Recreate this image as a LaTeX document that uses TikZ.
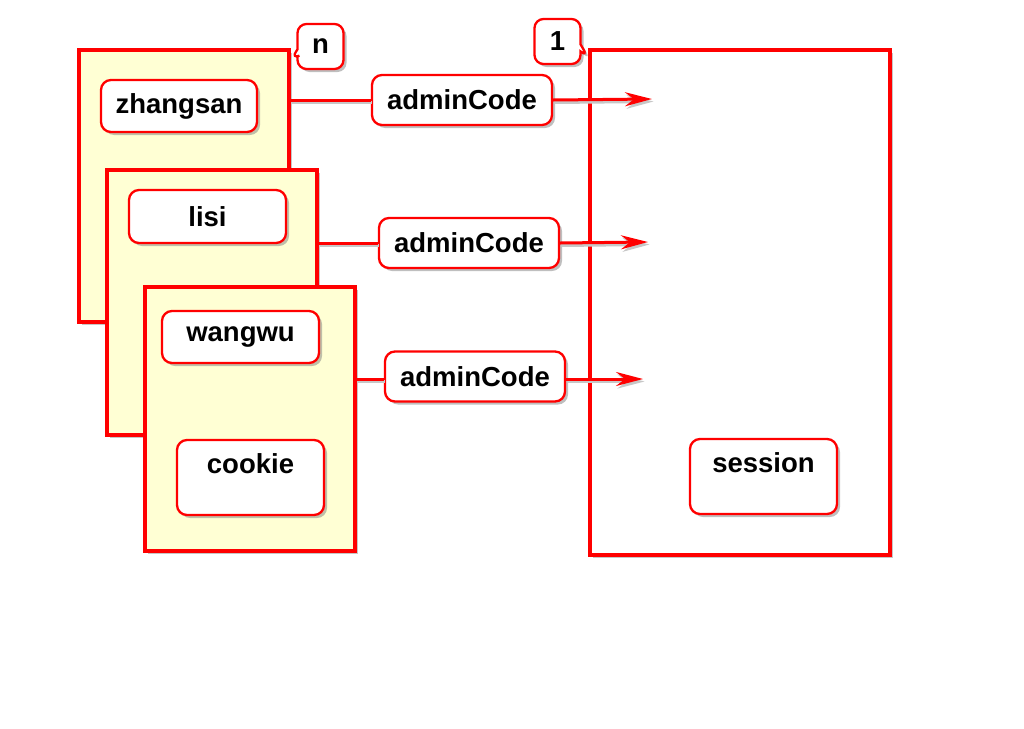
\documentclass[tikz,border=0pt]{standalone}
\usepackage{fontspec}
\setmainfont{Liberation Sans}
\usetikzlibrary{shadows,shapes.callouts,arrows.meta}

\definecolor{cardyellow}{RGB}{255,255,212}
\definecolor{linered}{RGB}{255,0,0}

\tikzset{
    card/.style={draw=linered, line width=3.4pt, fill=cardyellow,
        drop shadow={shadow xshift=3pt, shadow yshift=-3pt, opacity=0.45}},
    frame/.style={draw=linered, line width=3.4pt, fill=white,
        drop shadow={shadow xshift=3pt, shadow yshift=-3pt, opacity=0.45}},
    item/.style={draw=linered, line width=2.3pt, fill=white, rounded corners=10pt,
        font=\fontsize{27.5}{30}\selectfont\bfseries, align=center,
        minimum width=156pt, minimum height=52pt, inner sep=2pt,
        drop shadow={shadow xshift=3pt, shadow yshift=-3pt, opacity=0.5}},
    codebox/.style={item, minimum width=180pt, minimum height=50pt},
    marker/.style={rectangle callout, draw=linered, line width=2.3pt, fill=white,
        rounded corners=9pt, font=\fontsize{27.5}{30}\selectfont\bfseries,
        minimum width=46pt, minimum height=45pt, inner sep=2pt,
        drop shadow={shadow xshift=3pt, shadow yshift=-3pt, opacity=0.5}},
    flow/.style={draw=linered, line width=3pt,
        preaction={draw=black!22, line width=3pt, transform canvas={xshift=1.5pt, yshift=-2.5pt}}},
    flowtip/.style={flow, -{Stealth[length=27pt, width=14pt, inset=9pt]}}
}

\begin{document}
\begin{tikzpicture}[x=1pt,y=-1pt]
    \useasboundingbox (0,0) rectangle (1024,728);

    % draw the three client cards
    \node[card, minimum width=210pt, minimum height=272pt] (cardA) at (184,186) {};
    \node[card, minimum width=210pt, minimum height=265pt] (cardB) at (212,302.5) {};
    \node[card, minimum width=210pt, minimum height=264pt] (cardC) at (250,419) {};

    % draw the server frame
    \node[frame, minimum width=300pt, minimum height=505pt] (sess) at (740,302.5) {};

    % fill the names in the cards
    \node[item] (zhangsan) at (179,106) {zhangsan};
    \node[item, minimum width=157pt, minimum height=53pt] (lisi) at (207.5,216.5) {lisi};
    \node[item, minimum width=157pt] (wangwu) at (240.5,337) {wangwu};
    \node[item, minimum width=147pt, minimum height=75pt] (cookie) at (250.5,477.5) {cookie\\[-3pt]~};
    \node[item, minimum width=147pt, minimum height=75pt] (session) at (763.5,476.5) {session\\[-3pt]~};

    % draw the multiplicity marks
    \node[marker, callout absolute pointer={(291,59)}] (many) at (320.5,46.5) {n};
    \node[marker, callout absolute pointer={(588,57)}] (one) at (557.5,41.5) {1};

    % draw the adminCode labels
    \node[codebox] (code1) at (462,100) {adminCode};
    \node[codebox] (code2) at (469,243) {adminCode};
    \node[codebox] (code3) at (475,376.5) {adminCode};

    % arrow ends inside the session frame
    \coordinate (tip1) at (652,99);
    \coordinate (tip2) at (648,242);
    \coordinate (tip3) at (643,379);

    % draw arrow from card to session
    \draw[flow] (cardA.east |- code1.west) -- (code1.west);
    \draw[flowtip] (code1.east) -- (tip1);
    \draw[flow] (cardB.east |- code2.west) -- (code2.west);
    \draw[flowtip] (code2.east) -- (tip2);
    \draw[flow] (cardC.east |- tip3) -- (code3.west |- tip3);
    \draw[flowtip] (code3.east |- tip3) -- (tip3);

\end{tikzpicture}
\end{document}
